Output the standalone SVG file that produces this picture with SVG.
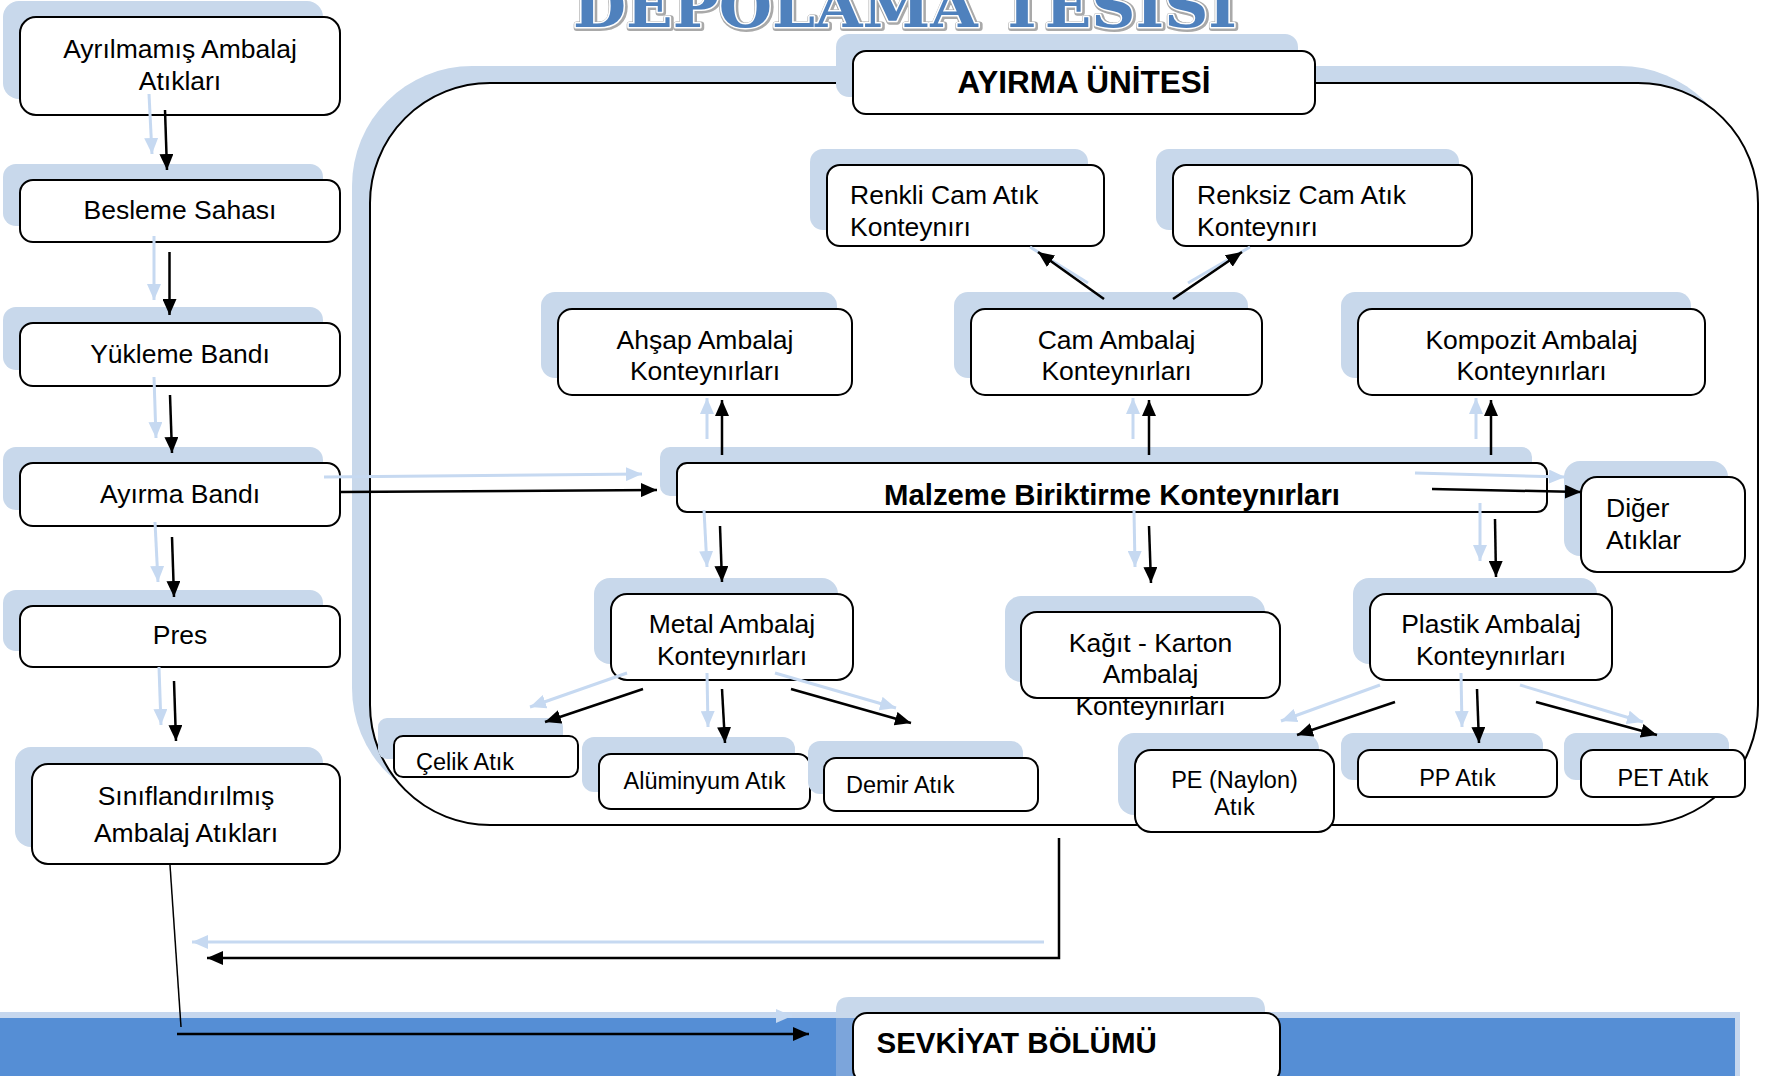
<svg xmlns="http://www.w3.org/2000/svg" width="1773" height="1076" viewBox="0 0 1773 1076">
<style>
.sh{fill:#c8d8eb}
.bx{fill:#fff;stroke:#000;stroke-width:2}
.t{font-family:"Liberation Sans",Arial,sans-serif;font-size:26.5px;fill:#000}
.ts{font-family:"Liberation Sans",Arial,sans-serif;font-size:23.5px;fill:#000}
.tb{font-family:"Liberation Sans",Arial,sans-serif;font-weight:bold;fill:#000}
.c{text-anchor:middle}
.k{stroke:#000;stroke-width:2.5;fill:none;marker-end:url(#ak)}
.l{stroke:#c6d9f1;stroke-width:3;fill:none;marker-end:url(#al)}
.ln{stroke:#c6d9f1;stroke-width:3;fill:none}
</style>
<defs>
<marker id="ak" markerUnits="userSpaceOnUse" markerWidth="17" markerHeight="14" refX="16" refY="7" orient="auto"><path d="M0,0 L16,7 L0,14 z" fill="#000"/></marker>
<marker id="al" markerUnits="userSpaceOnUse" markerWidth="17" markerHeight="14" refX="16" refY="7" orient="auto"><path d="M0,0 L16,7 L0,14 z" fill="#c6d9f1"/></marker>
</defs>
<rect width="1773" height="1076" fill="#fff"/>
<!-- bottom band -->
<rect x="0" y="1012" width="1740" height="64" fill="#c6d7ee"/>
<rect x="0" y="1018" width="1735" height="58" fill="#558ed5"/>
<!-- title -->
<g id="title">
<text x="574" y="28" font-family="DejaVu Serif,serif" font-weight="bold" font-size="58" textLength="664" lengthAdjust="spacingAndGlyphs" fill="none" stroke="#a9a9a9" stroke-width="6" stroke-linejoin="round">DEPOLAMA TESİSİ</text>
<text x="573" y="27" font-family="DejaVu Serif,serif" font-weight="bold" font-size="58" textLength="664" lengthAdjust="spacingAndGlyphs" fill="#4f81bd" stroke="#fff" stroke-width="3" stroke-linejoin="round" paint-order="stroke">DEPOLAMA TESİSİ</text>
</g>
<!-- container -->
<g id="ayirma-unitesi-container">
<rect class="sh" x="352" y="66" width="1388" height="742" rx="120"/>
<rect x="370" y="83" width="1388" height="742" rx="120" fill="#fff" stroke="#000" stroke-width="2"/>
</g>
<g id="ayirma-unitesi">
<rect class="sh" x="836" y="34" width="462" height="63" rx="13"/>
<rect class="bx" x="853" y="51" width="462" height="63" rx="13"/>
<text class="tb c" x="1084" y="93" font-size="31.5">AYIRMA ÜNİTESİ</text>
</g>
<!-- left column -->
<g id="ayrilmamis">
<rect class="sh" x="3" y="1" width="320" height="98" rx="16"/>
<rect class="bx" x="20" y="17" width="320" height="98" rx="16"/>
<text class="t c" x="180" y="58">Ayrılmamış Ambalaj</text>
<text class="t c" x="180" y="90">Atıkları</text>
</g>
<g id="besleme">
<rect class="sh" x="3" y="164" width="320" height="62" rx="13"/>
<rect class="bx" x="20" y="180" width="320" height="62" rx="13"/>
<text class="t c" x="180" y="219">Besleme Sahası</text>
</g>
<g id="yukleme">
<rect class="sh" x="3" y="307" width="320" height="63" rx="13"/>
<rect class="bx" x="20" y="323" width="320" height="63" rx="13"/>
<text class="t c" x="180" y="363">Yükleme Bandı</text>
</g>
<g id="ayirma-bandi">
<rect class="sh" x="3" y="447" width="320" height="63" rx="13"/>
<rect class="bx" x="20" y="463" width="320" height="63" rx="13"/>
<text class="t c" x="180" y="503">Ayırma Bandı</text>
</g>
<g id="pres">
<rect class="sh" x="3" y="590" width="320" height="61" rx="13"/>
<rect class="bx" x="20" y="606" width="320" height="61" rx="13"/>
<text class="t c" x="180" y="644">Pres</text>
</g>
<g id="siniflandirilmis">
<rect class="sh" x="15" y="747" width="308" height="100" rx="16"/>
<rect class="bx" x="32" y="764" width="308" height="100" rx="16"/>
<text class="t c" x="186" y="805">Sınıflandırılmış</text>
<text class="t c" x="186" y="842">Ambalaj Atıkları</text>
</g>
<!-- inner nodes -->
<g id="renkli">
<rect class="sh" x="810" y="149" width="278" height="81" rx="13"/>
<rect class="bx" x="827" y="165" width="277" height="81" rx="13"/>
<text class="t" x="850" y="204">Renkli Cam Atık</text>
<text class="t" x="850" y="236">Konteynırı</text>
</g>
<g id="renksiz">
<rect class="sh" x="1156" y="149" width="303" height="81" rx="13"/>
<rect class="bx" x="1173" y="165" width="299" height="81" rx="13"/>
<text class="t" x="1197" y="204">Renksiz Cam Atık</text>
<text class="t" x="1197" y="236">Konteynırı</text>
</g>
<g id="ahsap">
<rect class="sh" x="541" y="292" width="296" height="86" rx="14"/>
<rect class="bx" x="558" y="309" width="294" height="86" rx="14"/>
<text class="t c" x="705" y="349">Ahşap Ambalaj</text>
<text class="t c" x="705" y="380">Konteynırları</text>
</g>
<g id="cam">
<rect class="sh" x="954" y="292" width="294" height="86" rx="14"/>
<rect class="bx" x="971" y="309" width="291" height="86" rx="14"/>
<text class="t c" x="1116.5" y="349">Cam Ambalaj</text>
<text class="t c" x="1116.5" y="380">Konteynırları</text>
</g>
<g id="kompozit">
<rect class="sh" x="1341" y="292" width="350" height="86" rx="14"/>
<rect class="bx" x="1358" y="309" width="347" height="86" rx="14"/>
<text class="t c" x="1531.5" y="349">Kompozit Ambalaj</text>
<text class="t c" x="1531.5" y="380">Konteynırları</text>
</g>
<g id="malzeme">
<rect class="sh" x="660" y="447" width="872" height="49" rx="10"/>
<rect class="bx" x="677" y="463" width="870" height="49" rx="10"/>
<text class="tb c" x="1112" y="505" font-size="29.3">Malzeme Biriktirme Konteynırları</text>
</g>
<g id="diger">
<rect class="sh" x="1564" y="461" width="164" height="95" rx="16"/>
<rect class="bx" x="1581" y="477" width="164" height="95" rx="16"/>
<text class="t" x="1606" y="517">Diğer</text>
<text class="t" x="1606" y="549">Atıklar</text>
</g>
<g id="metal">
<rect class="sh" x="594" y="578" width="244" height="86" rx="16"/>
<rect class="bx" x="611" y="594" width="242" height="86" rx="16"/>
<text class="t c" x="732" y="633">Metal Ambalaj</text>
<text class="t c" x="732" y="665">Konteynırları</text>
</g>
<g id="kagit">
<rect class="sh" x="1005" y="596" width="260" height="86" rx="16"/>
<rect class="bx" x="1021" y="612" width="259" height="86" rx="16"/>
<text class="t c" x="1150.5" y="652">Kağıt - Karton</text>
<text class="t c" x="1150.5" y="683">Ambalaj</text>
<text class="t c" x="1150.5" y="715">Konteynırları</text>
</g>
<g id="plastik">
<rect class="sh" x="1353" y="578" width="244" height="86" rx="16"/>
<rect class="bx" x="1370" y="594" width="242" height="86" rx="16"/>
<text class="t c" x="1491" y="633">Plastik Ambalaj</text>
<text class="t c" x="1491" y="665">Konteynırları</text>
</g>
<g id="celik">
<rect class="sh" x="378" y="718" width="185" height="41" rx="9"/>
<rect class="bx" x="394" y="736" width="184" height="41" rx="9"/>
<text class="ts" x="416" y="770">Çelik Atık</text>
</g>
<g id="aluminyum">
<rect class="sh" x="582" y="737" width="213" height="55" rx="12"/>
<rect class="bx" x="599" y="754" width="211" height="55" rx="12"/>
<text class="ts c" x="704.5" y="789">Alüminyum Atık</text>
</g>
<g id="demir">
<rect class="sh" x="808" y="741" width="215" height="53" rx="12"/>
<rect class="bx" x="824" y="758" width="214" height="53" rx="12"/>
<text class="ts" x="846" y="793">Demir Atık</text>
</g>
<g id="pe">
<rect class="sh" x="1118" y="733" width="201" height="82" rx="16"/>
<rect class="bx" x="1135" y="750" width="199" height="82" rx="16"/>
<text class="ts c" x="1234.5" y="788">PE (Naylon)</text>
<text class="ts c" x="1234.5" y="815">Atık</text>
</g>
<g id="pp">
<rect class="sh" x="1341" y="733" width="202" height="47" rx="12"/>
<rect class="bx" x="1358" y="750" width="199" height="47" rx="12"/>
<text class="ts c" x="1457.5" y="786">PP Atık</text>
</g>
<g id="pet">
<rect class="sh" x="1564" y="733" width="165" height="47" rx="12"/>
<rect class="bx" x="1581" y="750" width="164" height="47" rx="12"/>
<text class="ts c" x="1663" y="786">PET Atık</text>
</g>
<g id="sevkiyat">
<path d="M836,1018 V1010 Q836,997 849,997 H1252 Q1265,997 1265,1010 V1018 z" fill="#c8d8eb"/>
<rect x="836" y="1018" width="429" height="58" fill="#7ca5db"/>
<rect class="bx" x="853" y="1013" width="427" height="70" rx="14"/>
<text class="tb" x="876.5" y="1053" font-size="29.5">SEVKİYAT BÖLÜMÜ</text>
</g>
<!-- connectors -->
<g id="connectors">
<g id="light">
<path class="l" d="M149,94 L152,154"/>
<path class="l" d="M154,236 L154,300"/>
<path class="l" d="M154,377 L156,438"/>
<path class="l" d="M155,522 L158,582"/>
<path class="l" d="M159,667 L161,725"/>
<path class="l" d="M324,477 L642,474"/>
<path class="l" d="M707,439 L707,398"/>
<path class="l" d="M1133,439 L1133,398"/>
<path class="l" d="M1476,439 L1476,398"/>
<path class="ln" d="M1088,283 L1030,247"/>
<path class="ln" d="M1188,283 L1250,247"/>
<path class="l" d="M704,510 L707,567"/>
<path class="l" d="M1134,510 L1135,567"/>
<path class="l" d="M1480,503 L1480,561"/>
<path class="l" d="M1415,473 L1565,477"/>
<path class="l" d="M627,673 L530,707"/>
<path class="l" d="M707,673 L708,727"/>
<path class="l" d="M775,673 L896,708"/>
<path class="l" d="M1380,685 L1281,721"/>
<path class="l" d="M1461,673 L1462,727"/>
<path class="l" d="M1520,685 L1643,722"/>
<path class="l" d="M1044,942 L192,942"/>
<path class="l" d="M300,1016 L792,1016"/>
</g>
<g id="black">
<path class="k" d="M165,110 L167,170"/>
<path class="k" d="M169.5,252 L169.5,315"/>
<path class="k" d="M170,395 L172,453"/>
<path class="k" d="M172,537 L174,597"/>
<path class="k" d="M174,681 L176,741"/>
<path class="k" d="M340,492 L657,490"/>
<path class="k" d="M722,455 L722,400"/>
<path class="k" d="M1149,455 L1149,400"/>
<path class="k" d="M1491,455 L1491,400"/>
<path class="k" d="M1104,299 L1038,252"/>
<path class="k" d="M1173,299 L1242,252"/>
<path class="k" d="M720,526 L722,582"/>
<path class="k" d="M1149,526 L1151,583"/>
<path class="k" d="M1495,519 L1496,577"/>
<path class="k" d="M1432,489 L1581,492"/>
<path class="k" d="M643,689 L545,722"/>
<path class="k" d="M722,689 L725,743"/>
<path class="k" d="M791,689 L911,723"/>
<path class="k" d="M1395,702 L1297,735"/>
<path class="k" d="M1477,689 L1479,743"/>
<path class="k" d="M1536,702 L1657,735"/>
<path class="k" d="M1059,838 L1059,958 L207,958"/>
<path d="M170,865 L181,1027" stroke="#000" stroke-width="1.5" fill="none"/>
<path class="k" d="M177,1034 L809,1034"/>
</g>
</g>
</svg>
